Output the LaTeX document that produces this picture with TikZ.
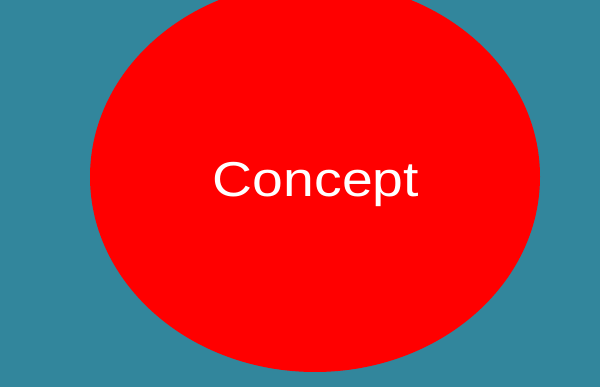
\documentclass[tikz,border=0pt]{standalone}
\usepackage{fontspec}
\setmainfont{Liberation Sans}
\definecolor{bgteal}{HTML}{32869C}
\definecolor{conceptred}{HTML}{FF0000}
\begin{document}
\begin{tikzpicture}[x=1pt,y=-1pt,
  concept/.style={fill=conceptred,draw=none},
  conceptlabel/.style={text=white,font=\fontsize{49}{49}\selectfont,inner sep=0pt,anchor=base}]
\fill[bgteal] (0,0) rectangle (600,387);
\useasboundingbox (0,0) rectangle (600,387);
\begin{scope}
\clip (0,0) rectangle (600,387);
\fill[concept] (315,176.7) ellipse [x radius=225, y radius=195.3];
\end{scope}
\node[conceptlabel,xscale=1.13] (label) at (316,197) {Concept};
\end{tikzpicture}
\end{document}
